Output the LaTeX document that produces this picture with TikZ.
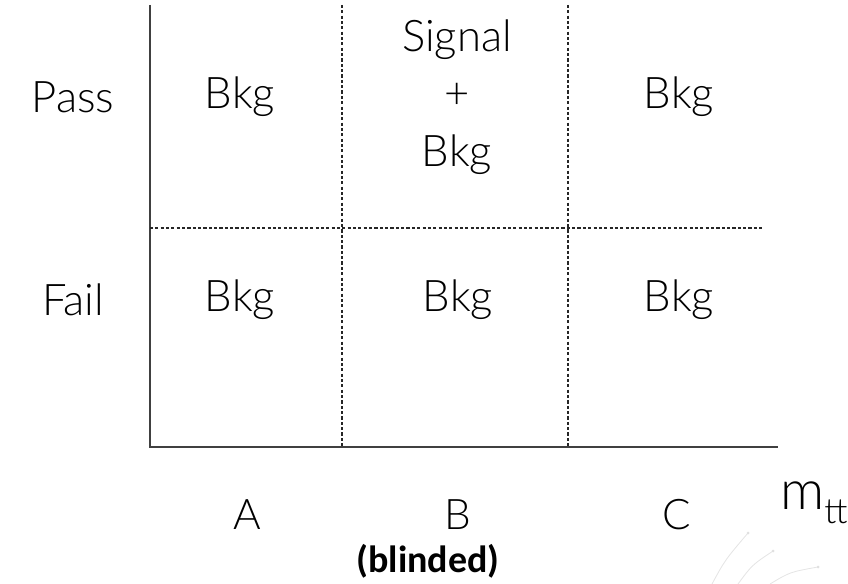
\documentclass[tikz,border=0pt]{standalone}
\usepackage{fontspec}
\IfFontExistsTF{Lato Light}{\setmainfont{Lato Light}}{\setmainfont{Lato}}
\newfontfamily\blindfont{Carlito}
\tikzset{
  axis/.style={line width=0.9pt, black!75},
  cut/.style={line width=0.8pt, black!85, dash pattern=on 2.2pt off 1.6pt},
  lbl/.style={font=\fontsize{31}{40}\selectfont, inner sep=0pt},
  region/.style={font=\fontsize{30}{40}\selectfont, inner sep=0pt},
}
\begin{document}
\begin{tikzpicture}[x=0.025cm, y=-0.025cm]
\useasboundingbox (0,0) rectangle (848,584);
% axes
\coordinate (O) at (150,447);
\coordinate (ytop) at (150,5);
\coordinate (xend) at (778,447);
\draw[axis] (ytop) -- (O) -- (xend);
% cuts
\coordinate (ab) at (342,447);
\coordinate (abtop) at (342,5);
\coordinate (bc) at (568,447);
\coordinate (bctop) at (568,5);
\coordinate (pf) at (150,228);
\coordinate (pfend) at (762,228);
\draw[cut] (abtop) -- (ab);
\draw[cut] (bctop) -- (bc);
\draw[cut] (pf) -- (pfend);
% rows
\node[lbl] (pass) at (73,97) {Pass};
\node[lbl] (fail) at (73,300) {Fail};
% regions
\node[lbl] (bkgAP) at (240,97) {Bkg};
\node[lbl, align=center, font=\fontsize{31}{41}\selectfont] (sigB) at (457,97) {Signal\\+\\Bkg};
\node[lbl] (bkgCP) at (679,97) {Bkg};
\node[lbl] (bkgAF) at (240,300) {Bkg};
\node[lbl] (bkgBF) at (458,300) {Bkg};
\node[lbl] (bkgCF) at (679,300) {Bkg};
% columns
\node[region] (colA) at (247,515) {A};
\node[region] (colB) at (458,515) {B};
\node[region] (colC) at (677,515) {C};
\node[inner sep=0pt, anchor=base west] (mtt) at (780,509) {\fontsize{39}{40}\selectfont m\raisebox{-10pt}{\fontsize{25}{26}\selectfont tt}};
\node[inner sep=0pt, font=\blindfont\bfseries\fontsize{27}{30}\selectfont] (blind) at (428,561) {(blinded)};
% faint mark
\draw[black!10, line width=0.6pt] (712,584) .. controls (725,560) .. (748,533);
\draw[black!10, line width=0.6pt] (738,584) .. controls (752,565) .. (773,551);
\draw[black!10, line width=0.6pt] (770,584) .. controls (790,572) .. (818,567);
\fill[black!12] (748,533) circle (1.5) (773,551) circle (1.5) (818,567) circle (1.5);
\end{tikzpicture}
\end{document}
